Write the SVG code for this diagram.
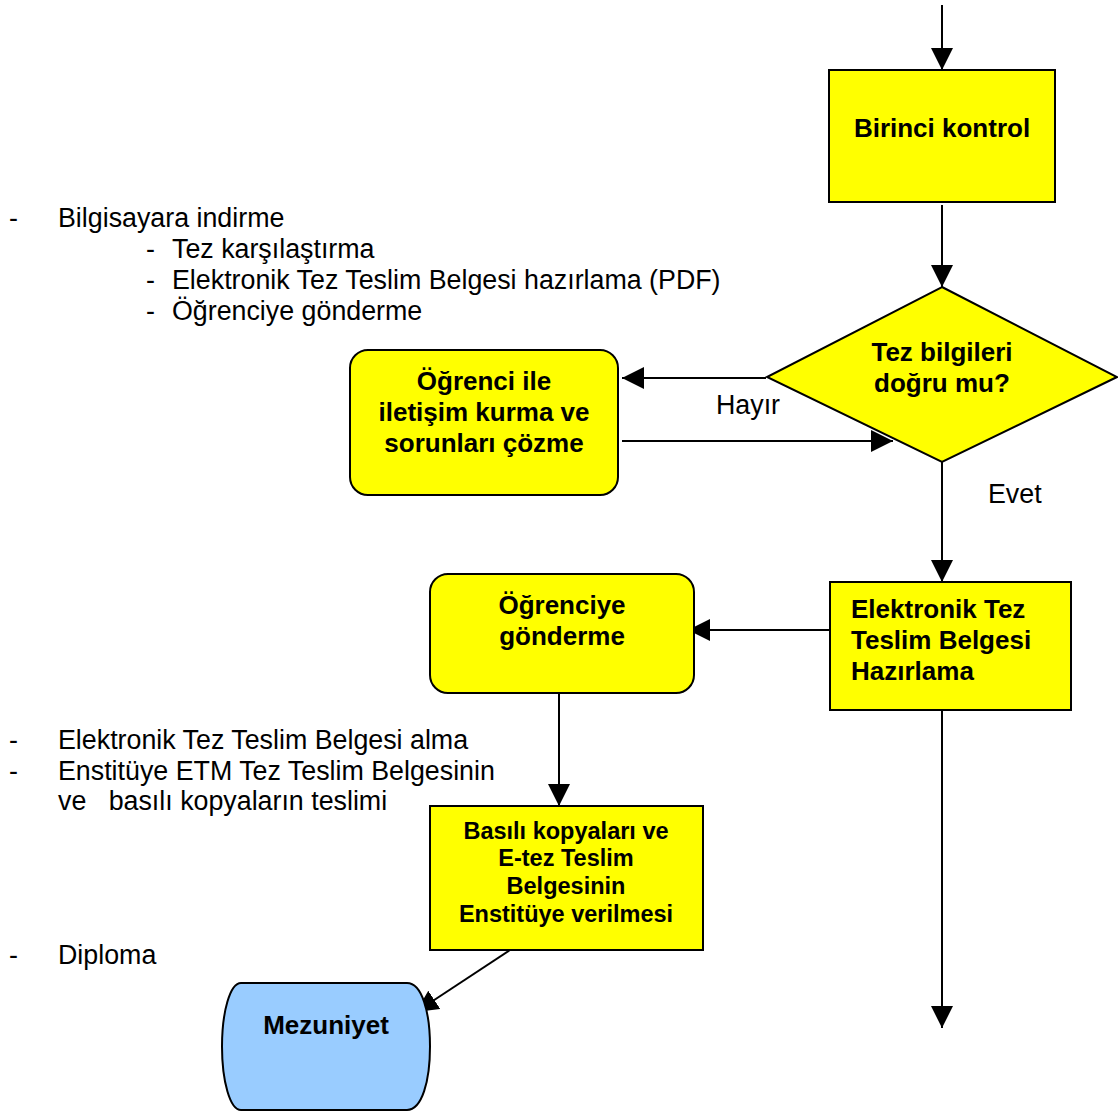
<svg xmlns="http://www.w3.org/2000/svg" width="1118" height="1113" viewBox="0 0 1118 1113">
<defs>
<style>
.box{fill:#FFFF00;stroke:#000;stroke-width:2}
.term{fill:#99CCFF;stroke:#000;stroke-width:2}
.b{font-family:"Liberation Sans",Arial,sans-serif;font-weight:bold;font-size:26px;fill:#000}
.bs{font-family:"Liberation Sans",Arial,sans-serif;font-weight:bold;font-size:23.5px;fill:#000}
.r{font-family:"Liberation Sans",Arial,sans-serif;font-size:26.8px;fill:#000}
.c{text-anchor:middle}
.conn line{stroke:#000;stroke-width:2;fill:none}
</style>
<marker id="ah" markerUnits="userSpaceOnUse" markerWidth="22" markerHeight="22" viewBox="0 0 20 20" refX="20" refY="10" orient="auto">
<path d="M0,0 L20,10 L0,20 Z" fill="#000"/>
</marker>
</defs>
<rect width="1118" height="1113" fill="#fff"/>

<g id="notes">
<text class="r" x="9" y="227">-</text>
<text class="r" x="58" y="227">Bilgisayara indirme</text>
<text class="r" x="146" y="258">-</text>
<text class="r" x="172" y="258">Tez karşılaştırma</text>
<text class="r" x="146" y="289">-</text>
<text class="r" x="172" y="289">Elektronik Tez Teslim Belgesi hazırlama (PDF)</text>
<text class="r" x="146" y="320">-</text>
<text class="r" x="172" y="320">Öğrenciye gönderme</text>
<text class="r" x="9" y="749">-</text>
<text class="r" x="58" y="749">Elektronik Tez Teslim Belgesi alma</text>
<text class="r" x="9" y="780">-</text>
<text class="r" x="58" y="780">Enstitüye ETM Tez Teslim Belgesinin</text>
<text class="r" x="58" y="810" xml:space="preserve">ve   basılı kopyaların teslimi</text>
<text class="r" x="9" y="964">-</text>
<text class="r" x="58" y="964">Diploma</text>
</g>

<g id="conn" class="conn">
<line x1="942" y1="5" x2="942" y2="70" marker-end="url(#ah)"/>
<line x1="942" y1="205" x2="942" y2="287" marker-end="url(#ah)"/>
<line x1="766" y1="378" x2="622" y2="378" marker-end="url(#ah)"/>
<line x1="622" y1="441" x2="893" y2="441" marker-end="url(#ah)"/>
<line x1="942" y1="462" x2="942" y2="582" marker-end="url(#ah)"/>
<line x1="830" y1="630" x2="688" y2="630" marker-end="url(#ah)"/>
<line x1="559" y1="693" x2="559" y2="806" marker-end="url(#ah)"/>
<line x1="510" y1="950" x2="416" y2="1012" marker-end="url(#ah)"/>
<line x1="942" y1="710" x2="942" y2="1028" marker-end="url(#ah)"/>
<text class="r" x="716" y="414">Hayır</text>
<text class="r" x="988" y="503">Evet</text>
</g>

<g id="birinci">
<rect class="box" x="829" y="70" width="226" height="132"/>
<text class="b c" x="942" y="137">Birinci kontrol</text>
</g>

<g id="karar">
<polygon class="box" points="942,287 1117,377 942,462 767,377"/>
<text class="b c" x="942" y="361">Tez bilgileri</text>
<text class="b c" x="942" y="392">doğru mu?</text>
</g>

<g id="iletisim">
<rect class="box" x="350" y="350" width="268" height="145" rx="18" ry="18"/>
<text class="b c" x="484" y="390">Öğrenci ile</text>
<text class="b c" x="484" y="421">iletişim kurma ve</text>
<text class="b c" x="484" y="452">sorunları çözme</text>
</g>

<g id="etb">
<rect class="box" x="830" y="582" width="241" height="128"/>
<text class="b" x="851" y="618">Elektronik Tez</text>
<text class="b" x="851" y="649">Teslim Belgesi</text>
<text class="b" x="851" y="680">Hazırlama</text>
</g>

<g id="gonderme">
<rect class="box" x="430" y="574" width="264" height="119" rx="18" ry="18"/>
<text class="b c" x="562" y="614">Öğrenciye</text>
<text class="b c" x="562" y="645">gönderme</text>
</g>

<g id="basili">
<rect class="box" x="430" y="806" width="273" height="144"/>
<text class="bs c" x="566" y="839">Basılı kopyaları ve</text>
<text class="bs c" x="566" y="866">E-tez Teslim</text>
<text class="bs c" x="566" y="894">Belgesinin</text>
<text class="bs c" x="566" y="922">Enstitüye verilmesi</text>
</g>

<g id="mezuniyet">
<path class="term" d="M241,983 H407 C422,983 430,1012 430,1046.5 C430,1081 422,1110 407,1110 H241 C230,1110 222,1081 222,1046.5 C222,1012 230,983 241,983 Z"/>
<text class="b c" x="326" y="1034">Mezuniyet</text>
</g>
</svg>
